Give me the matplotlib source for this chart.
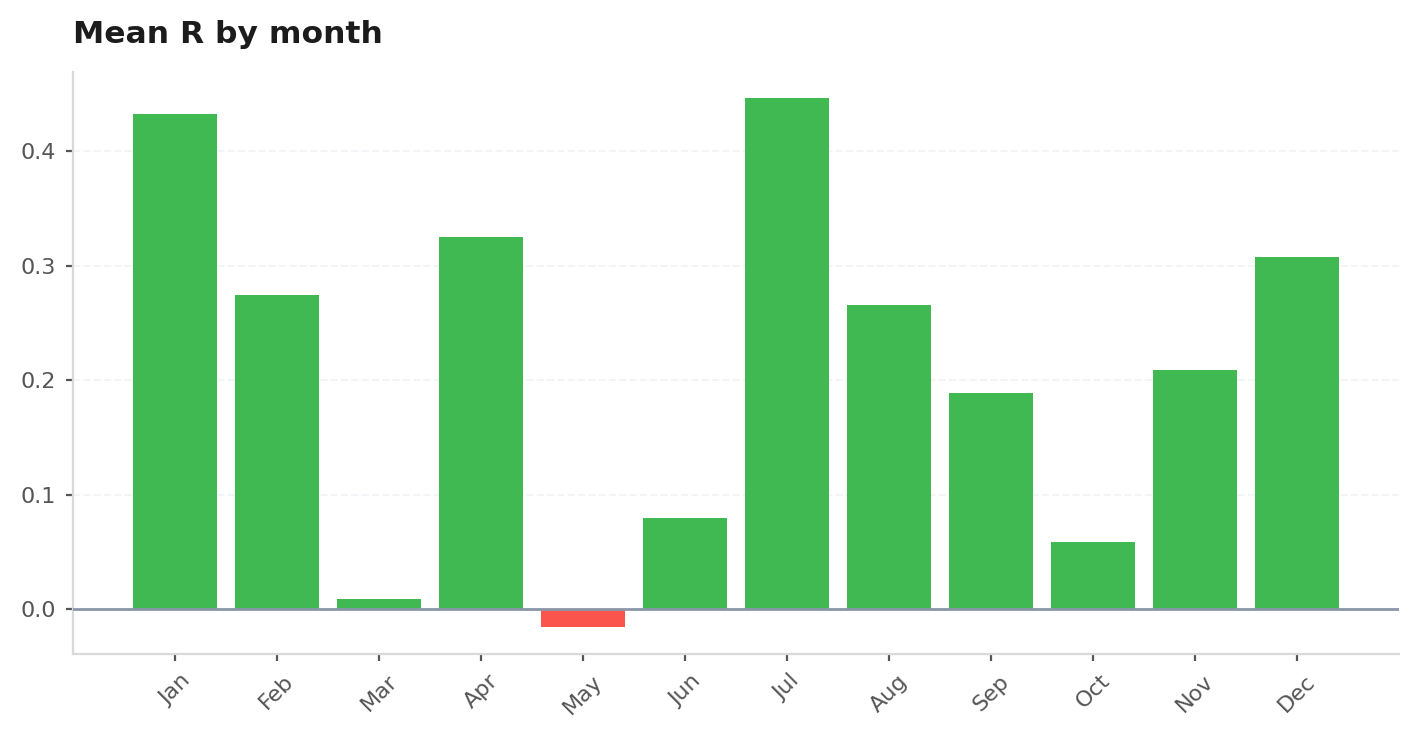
import matplotlib
matplotlib.use("Agg")
import matplotlib.pyplot as plt

months = ["Jan", "Feb", "Mar", "Apr", "May", "Jun", "Jul", "Aug", "Sep", "Oct", "Nov", "Dec"]
mean_r = [0.432, 0.274, 0.0087, 0.325, -0.0157, 0.0795, 0.446, 0.2655, 0.1886, 0.0585, 0.2087, 0.3074]

GREEN = "#41b953"
RED = "#fa544c"

fig, ax = plt.subplots(figsize=(7.095, 3.7), dpi=200)
fig.subplots_adjust(left=0.0514, right=0.986, top=0.9027, bottom=0.1162)

x = list(range(len(months)))
colors = [GREEN if v >= 0 else RED for v in mean_r]
ax.bar(x, mean_r, width=0.82, color=colors, zorder=2)
ax.axhline(0, color="#8a97a8", linewidth=1.0, zorder=3)

ax.set_xlim(-1, 12)
ax.set_ylim(-0.0393, 0.469)
ax.set_yticks([0.0, 0.1, 0.2, 0.3, 0.4])
ax.set_xticks(x)
ax.set_xticklabels(months, rotation=45)

ax.grid(axis="y", linestyle="--", color="#f3f4f7", linewidth=0.7, zorder=0)
ax.set_axisbelow(True)

for side in ["top", "right"]:
    ax.spines[side].set_visible(False)
for side in ["left", "bottom"]:
    ax.spines[side].set_color("#d9d9d9")
    ax.spines[side].set_linewidth(0.8)

ax.tick_params(axis="both", labelsize=8, colors="#555555", length=2.6, width=0.8)

ax.set_title("Mean R by month", loc="left", fontsize=11.3, fontweight="bold", color="#1c1c1c", pad=10.5)

fig.savefig("out.png", dpi=200)
